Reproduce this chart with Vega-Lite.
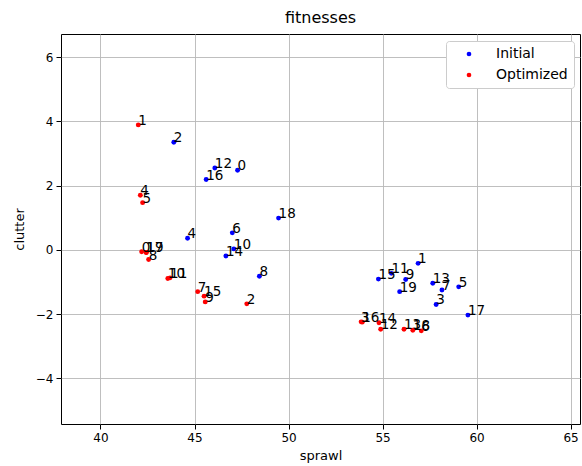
{
  "$schema": "https://vega.github.io/schema/vega-lite/v6.json",
  "width": 519,
  "height": 390,
  "autosize": "none",
  "padding": {"left": 61, "top": 34, "right": 2, "bottom": 42},
  "title": {"text": "fitnesses", "fontSize": 16, "font": "DejaVu Sans", "fontWeight": "normal", "color": "black", "frame": "group", "anchor": "middle", "offset": 8},
  "config": {
    "view": {"stroke": "black", "strokeWidth": 1},
    "font": "DejaVu Sans",
    "axis": {"domain": false, "grid": true, "gridColor": "#b8b8b8", "gridWidth": 0.9, "tickColor": "black", "tickSize": 5, "labelColor": "black", "labelFontSize": 12, "labelFont": "DejaVu Sans", "titleFont": "DejaVu Sans", "titleFontSize": 13, "titleFontWeight": "normal", "titleColor": "black", "labelPadding": 3}
  },
  "data": {"values": [
    {"series": "Initial", "idx": "0", "sprawl": 47.29, "clutter": 2.48},
    {"series": "Initial", "idx": "1", "sprawl": 56.89, "clutter": -0.42},
    {"series": "Initial", "idx": "2", "sprawl": 43.90, "clutter": 3.35},
    {"series": "Initial", "idx": "3", "sprawl": 57.85, "clutter": -1.70},
    {"series": "Initial", "idx": "4", "sprawl": 44.63, "clutter": 0.36},
    {"series": "Initial", "idx": "5", "sprawl": 59.05, "clutter": -1.15},
    {"series": "Initial", "idx": "6", "sprawl": 47.01, "clutter": 0.53},
    {"series": "Initial", "idx": "7", "sprawl": 58.16, "clutter": -1.25},
    {"series": "Initial", "idx": "8", "sprawl": 48.45, "clutter": -0.82},
    {"series": "Initial", "idx": "9", "sprawl": 56.23, "clutter": -0.92},
    {"series": "Initial", "idx": "10", "sprawl": 47.09, "clutter": 0.03},
    {"series": "Initial", "idx": "11", "sprawl": 55.47, "clutter": -0.73},
    {"series": "Initial", "idx": "12", "sprawl": 46.08, "clutter": 2.55},
    {"series": "Initial", "idx": "13", "sprawl": 57.67, "clutter": -1.04},
    {"series": "Initial", "idx": "14", "sprawl": 46.67, "clutter": -0.19},
    {"series": "Initial", "idx": "15", "sprawl": 54.78, "clutter": -0.91},
    {"series": "Initial", "idx": "16", "sprawl": 45.62, "clutter": 2.19},
    {"series": "Initial", "idx": "17", "sprawl": 59.54, "clutter": -2.03},
    {"series": "Initial", "idx": "18", "sprawl": 49.47, "clutter": 0.99},
    {"series": "Initial", "idx": "19", "sprawl": 55.91, "clutter": -1.30},
    {"series": "Optimized", "idx": "0", "sprawl": 42.19, "clutter": -0.06},
    {"series": "Optimized", "idx": "1", "sprawl": 42.01, "clutter": 3.89},
    {"series": "Optimized", "idx": "2", "sprawl": 47.78, "clutter": -1.68},
    {"series": "Optimized", "idx": "3", "sprawl": 53.86, "clutter": -2.24},
    {"series": "Optimized", "idx": "4", "sprawl": 42.12, "clutter": 1.70},
    {"series": "Optimized", "idx": "5", "sprawl": 42.24, "clutter": 1.47},
    {"series": "Optimized", "idx": "6", "sprawl": 57.06, "clutter": -2.52},
    {"series": "Optimized", "idx": "7", "sprawl": 45.17, "clutter": -1.30},
    {"series": "Optimized", "idx": "8", "sprawl": 42.56, "clutter": -0.30},
    {"series": "Optimized", "idx": "9", "sprawl": 45.57, "clutter": -1.62},
    {"series": "Optimized", "idx": "10", "sprawl": 43.58, "clutter": -0.89},
    {"series": "Optimized", "idx": "11", "sprawl": 43.70, "clutter": -0.87},
    {"series": "Optimized", "idx": "12", "sprawl": 54.90, "clutter": -2.47},
    {"series": "Optimized", "idx": "13", "sprawl": 56.14, "clutter": -2.47},
    {"series": "Optimized", "idx": "14", "sprawl": 54.81, "clutter": -2.27},
    {"series": "Optimized", "idx": "15", "sprawl": 45.51, "clutter": -1.44},
    {"series": "Optimized", "idx": "16", "sprawl": 53.92, "clutter": -2.25},
    {"series": "Optimized", "idx": "17", "sprawl": 42.43, "clutter": -0.08},
    {"series": "Optimized", "idx": "18", "sprawl": 56.61, "clutter": -2.50},
    {"series": "Optimized", "idx": "19", "sprawl": 42.44, "clutter": -0.08}
  ]},
  "encoding": {
    "x": {"field": "sprawl", "type": "quantitative", "scale": {"domain": [37.9, 65.5], "nice": false, "zero": false}, "axis": {"values": [40, 45, 50, 55, 60, 65], "title": "sprawl", "titlePadding": 6}},
    "y": {"field": "clutter", "type": "quantitative", "scale": {"domain": [-5.42, 6.72], "nice": false, "zero": false}, "axis": {"values": [-4, -2, 0, 2, 4, 6], "title": "clutter", "labelExpr": "replace(datum.label, '-', '\u2212')", "titlePadding": 9}}
  },
  "layer": [
    {
      "mark": {"type": "point", "filled": true, "size": 24, "opacity": 1},
      "encoding": {
        "color": {"field": "series", "type": "nominal", "scale": {"domain": ["Initial", "Optimized"], "range": ["#0000ff", "#ff0000"]},
          "legend": {"title": null, "orient": "none", "legendX": 385, "legendY": 7, "labelFontSize": 14, "labelColor": "black", "labelFont": "DejaVu Sans", "symbolSize": 22, "symbolType": "circle", "symbolOffset": 10, "labelOffset": 20, "padding": 6, "rowPadding": 7, "strokeColor": "#cccccc", "fillColor": "white", "cornerRadius": 3}}
      }
    },
    {
      "mark": {"type": "text", "align": "left", "baseline": "alphabetic", "fontSize": 13.5, "font": "DejaVu Sans", "color": "black"},
      "encoding": {"text": {"field": "idx", "type": "nominal"}}
    }
  ]
}
